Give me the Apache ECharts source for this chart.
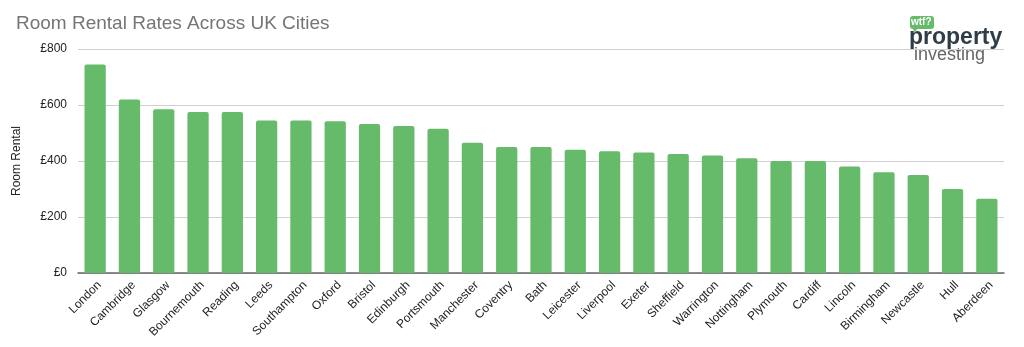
<!DOCTYPE html>
<html>
<head>
<meta charset="utf-8">
<script src="https://cdn.jsdelivr.net/npm/echarts@6/dist/echarts.min.js"></script>
<style>
  html, body { margin: 0; padding: 0; background: #fff; }
  #chart { width: 1024px; height: 347px; }
</style>
</head>
<body>
<div id="chart"></div>
<script>
const cities = ['London', 'Cambridge', 'Glasgow', 'Bournemouth', 'Reading', 'Leeds', 'Southampton', 'Oxford',
  'Bristol', 'Edinburgh', 'Portsmouth', 'Manchester', 'Coventry', 'Bath', 'Leicester', 'Liverpool', 'Exeter',
  'Sheffield', 'Warrington', 'Nottingham', 'Plymouth', 'Cardiff', 'Lincoln', 'Birmingham', 'Newcastle', 'Hull', 'Aberdeen']
const rent = [745, 620, 585, 575, 575, 545, 545, 542, 532, 525, 515, 465, 450, 450, 440, 435, 430, 425, 420, 410,
  400, 400, 380, 360, 350, 300, 265]
const yTicks = [0, 200, 400, 600, 800]

const chart = echarts.init(document.getElementById('chart'))

const option = {
  animation: false,
  textStyle: { fontFamily: 'Liberation Sans, Arial, sans-serif' },
  title: {
    text: 'Room Rental Rates Across UK Cities',
    left: 11,
    top: 9,
    textStyle: { color: '#757575', fontSize: 19, fontWeight: 'normal' }
  },
  grid: { left: 78, right: 20, top: 49, bottom: 74 },
  xAxis: {
    type: 'category',
    data: cities,
    axisTick: { show: false },
    axisLine: { lineStyle: { color: '#666', width: 1.5 } },
    axisLabel: { rotate: 45, color: '#222', fontSize: 12, interval: 0, margin: 6, verticalAlign: 'top' }
  },
  yAxis: {
    type: 'value',
    min: yTicks[0],
    max: yTicks[yTicks.length - 1],
    interval: 200,
    name: 'Room Rental',
    nameLocation: 'middle',
    nameGap: 55,
    nameTextStyle: { color: '#222', fontSize: 12 },
    axisLabel: { color: '#222', fontSize: 12, margin: 11, formatter: v => '£' + v },
    splitLine: { lineStyle: { color: '#d0d0d0' } }
  },
  series: [{
    type: 'bar',
    data: rent,
    barCategoryGap: '38%',
    itemStyle: { color: '#66bb6a', borderRadius: [2, 2, 0, 0] }
  }],
  graphic: [
    { type: 'rect', left: 910, top: 16, shape: { width: 24, height: 13, r: 3 }, style: { fill: '#66bb6a' } },
    { type: 'polygon', shape: { points: [[913, 28], [919, 28], [914, 32]] }, style: { fill: '#66bb6a' } },
    { type: 'text', left: 911, top: 17, style: { text: 'wtf?', fill: '#fff', font: 'bold 10px Liberation Sans, Arial' } },
    { type: 'text', left: 909, top: 26, style: { text: 'property', fill: '#2e3d47', font: 'bold 23px Liberation Sans, Arial' } },
    { type: 'text', left: 914, top: 46, style: { text: 'investing', fill: '#666', font: '18px Liberation Sans, Arial' } }
  ]
}

chart.setOption(option)
</script>
</body>
</html>
